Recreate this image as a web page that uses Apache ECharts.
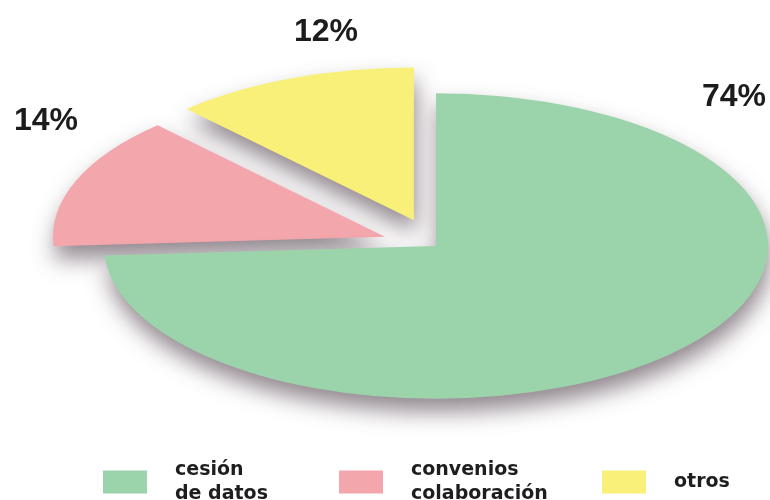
<!DOCTYPE html>
<html>
<head>
<meta charset="utf-8">
<script src="https://cdn.jsdelivr.net/npm/echarts@6/dist/echarts.min.js"></script>
<style>
  html, body { margin: 0; padding: 0; background: #ffffff; }
  #chart { width: 770px; height: 500px; }
</style>
</head>
<body>
<div id="chart"></div>
<script>
// Slice names (legend text) and their shares in percent
const categories = ['cesión\nde datos', 'convenios\ncolaboración', 'otros'];
const shares = [74, 14, 12];
const sliceColors = ['#9bd3aa', '#f4a6ad', '#f9f07a'];

// Pie geometry: a tilted (flattened) disc with two pulled-out wedges
const pieCenter = [436, 246];
const pieRadius = 332;
const tilt = 0.46;
const explode = [0, 55, 60];
const labelAnchors = [[734, 97], [46, 121], [326, 32]];
const legendLeft = [103, 339, 602];

const total = shares.reduce((a, b) => a + b, 0);

function makeRenderer(i) {
  return function (params, api) {
    const before = shares.slice(0, i).reduce((a, b) => a + b, 0);
    const start = -Math.PI / 2 + before / total * Math.PI * 2;
    const end = start + api.value(0) / total * Math.PI * 2;
    const mid = (start + end) / 2;
    const dx = Math.cos(mid) * explode[i];
    const dy = Math.sin(mid) * explode[i] * tilt;
    return {
      type: 'group',
      children: [
        {
          type: 'sector',
          x: pieCenter[0] + dx,
          y: pieCenter[1] + dy,
          scaleY: tilt,
          shape: { cx: 0, cy: 0, r0: 0, r: pieRadius, startAngle: start, endAngle: end, clockwise: true },
          style: {
            fill: api.visual('color'),
            shadowBlur: 22,
            shadowColor: 'rgba(100, 85, 95, 0.7)',
            shadowOffsetX: 2,
            shadowOffsetY: 13
          }
        },
        {
          type: 'text',
          x: labelAnchors[i][0],
          y: labelAnchors[i][1],
          z2: 10,
          style: {
            text: api.value(0) + '%',
            fill: '#1c1c1c',
            fontFamily: '"Liberation Sans", Arial, sans-serif',
            fontWeight: 'bold',
            fontSize: 32,
            align: 'center',
            verticalAlign: 'middle'
          }
        }
      ]
    };
  };
}

const chart = echarts.init(document.getElementById('chart'), null, { renderer: 'canvas' });

chart.setOption({
  backgroundColor: '#ffffff',
  animation: false,
  legend: categories.map((name, i) => ({
    data: [name],
    left: legendLeft[i],
    top: name.indexOf('\n') >= 0 ? 458 : 470,
    padding: 0,
    icon: 'rect',
    itemWidth: 44,
    itemHeight: 23,
    selectedMode: false,
    textStyle: {
      color: '#1e1e1e',
      fontFamily: '"DejaVu Sans", sans-serif',
      fontWeight: 'bold',
      fontSize: 19,
      lineHeight: 24,
      padding: [0, 0, 0, 23]
    }
  })),
  series: categories.map((name, i) => ({
    type: 'custom',
    name: name,
    coordinateSystem: 'none',
    z: 3 - i,
    silent: true,
    itemStyle: { color: sliceColors[i] },
    data: [shares[i]],
    renderItem: makeRenderer(i)
  }))
});
</script>
</body>
</html>
